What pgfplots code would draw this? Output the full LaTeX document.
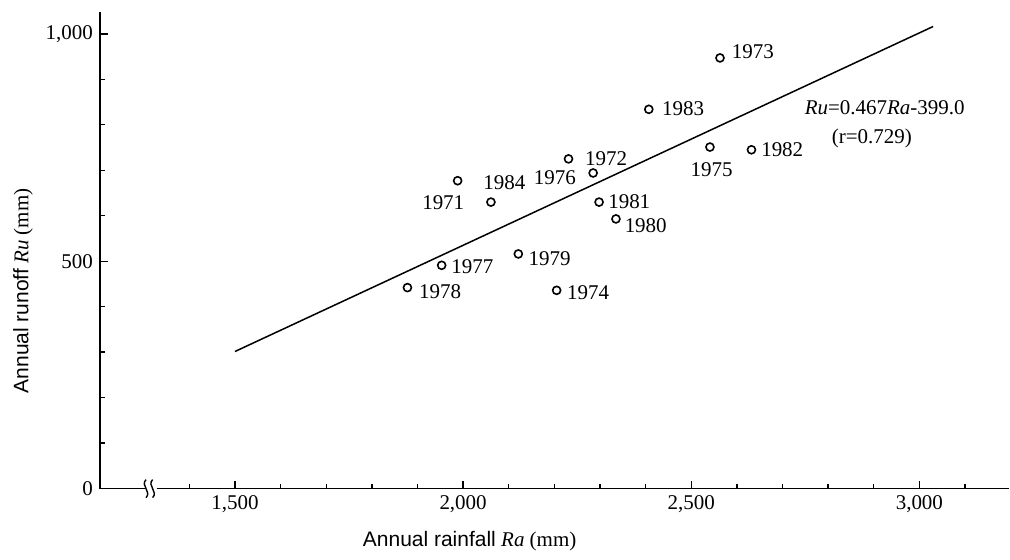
\documentclass[border=0pt]{standalone}
\usepackage{fontspec}
\setmainfont{Liberation Serif}
\newfontfamily\labelsans{Liberation Sans}
\usepackage{pgfplots}
\usepackage{pgfplotstable}
\pgfplotsset{compat=1.18}

% annual rainfall, runoff, year, label offset (pt)
\pgfplotstableread{
x    y    year  lx    ly
1988 677  1971  -7.2  -10.8
2231 725  1972  18.8  0
2563 947  1973  16.4  3.3
2205 436  1974  15.7  -1.3
2541 751  1975  0.8   -11.3
2285 694  1976  -19.2 -2.5
1953 491  1977  15.4  -0.5
1878 442  1978  16.3  -2.0
2121 516  1979  15.7  -2.5
2335 593  1980  14.9  -3.5
2298 630  1981  15.1  0
2632 745  1982  15.4  0
2407 834  1983  17.2  0.5
2061 630  1984  6.7   9.5
}\rundata

\begin{document}
\begin{tikzpicture}[font=\fontsize{10.5pt}{12pt}\selectfont]
\begin{axis}[
    scale only axis,
    width=455pt, height=238.5pt,
    xmin=1204, xmax=3197,
    ymin=0, ymax=1048,
    axis x line=bottom, axis y line=left,
    axis line style={-, line width=0.75pt},
    tick align=inside,
    major tick length=4pt, minor tick length=2.5pt,
    tick style={line width=0.7pt, black},
    xtick={1500,2000,2500,3000},
    minor xtick={1400,1600,1700,1800,1900,2100,2200,2300,2400,2600,2700,2800,2900,3100},
    ytick={0,500,1000},
    minor ytick={100,200,300,400,600,700,800,900},
    /pgf/number format/.cd, 1000 sep={,}, assume math mode=true,
    /pgfplots/.cd,
    xlabel={{\labelsans Annual rainfall} \textit{Ra} (mm)},
    ylabel={{\labelsans Annual runoff} \textit{Ru} (mm)},
    xlabel style={at={(axis description cs:0.4066,-0.111)}, anchor=center},
    ylabel style={at={(axis description cs:-0.0846,0.415)}, anchor=center},
    clip=false,
]
\addplot[black, line width=0.75pt] coordinates {(1500,301.5) (3030,1016)};
\addplot[
    only marks, mark=o, mark size=2pt, black,
    mark options={line width=0.8pt},
    point meta=explicit symbolic,
    visualization depends on={\thisrow{lx} \as \lx},
    visualization depends on={\thisrow{ly} \as \ly},
    nodes near coords,
    every node near coord/.append style={anchor=center, xshift=\lx pt, yshift=\ly pt, inner sep=0pt},
] table[x=x, y=y, meta=year] {\rundata};
\node at (axis cs:2924,837) {\textit{Ru}=0.467\textit{Ra}-399.0};
\node at (axis cs:2896,771) {(r=0.729)};
% axis break
\fill[white] (axis cs:1316,0) ++(-3pt,-1pt) rectangle ++(6pt,2pt);
\draw[line width=0.7pt] (axis cs:1316,0) ++(-2.5pt,-4.5pt) .. controls +(3pt,3pt) and +(-3pt,-3pt) .. ++(0pt,9pt);
\draw[line width=0.7pt] (axis cs:1316,0) ++(0.8pt,-4.5pt) .. controls +(3pt,3pt) and +(-3pt,-3pt) .. ++(0pt,9pt);
\end{axis}
\path[use as bounding box] ([xshift=-50pt,yshift=-35.5pt]current axis.south west) rectangle ([yshift=6pt]current axis.north east);
\end{tikzpicture}
\end{document}
